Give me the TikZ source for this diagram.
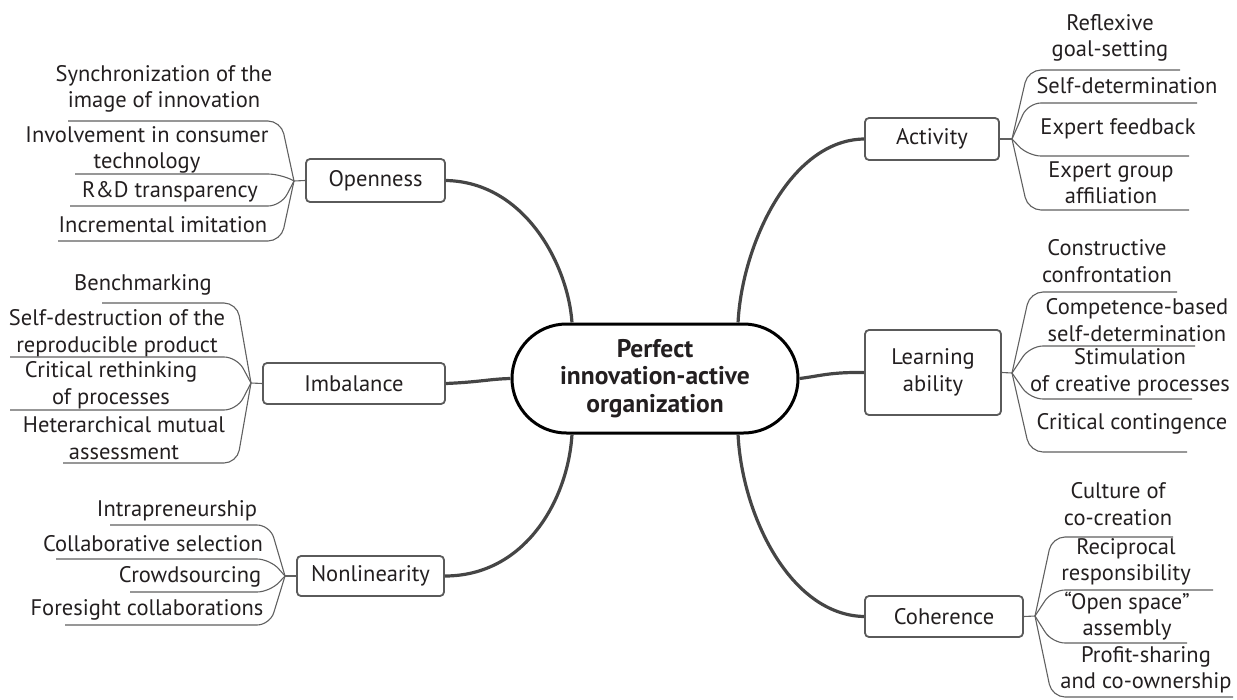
\documentclass[tikz,border=0pt]{standalone}
\usepackage{fontspec}
\setmainfont{PT Sans}
\usetikzlibrary{shapes.misc}
\definecolor{txt}{HTML}{231F20}
\definecolor{mainc}{HTML}{454545}
\definecolor{boxc}{HTML}{5A5A5A}
\definecolor{twigc}{HTML}{606060}
\newcommand{\lfont}{\fontsize{22.5}{26.5}\selectfont}
\newcommand{\hfont}{\fontsize{25.5}{27.5}\selectfont\bfseries}
\tikzset{
  leaf/.style={font=\lfont, text=txt, align=center, inner sep=0pt},
  branch/.style={draw=boxc, line width=1.8pt, rounded corners=4pt, fill=white,
    font=\lfont, text=txt, align=center, inner sep=0pt},
  hub/.style={rounded rectangle, draw=black, line width=3pt, fill=white,
    minimum width=286, minimum height=109, inner sep=0pt,
    font=\hfont, text=txt, align=center},
  mainline/.style={draw=mainc, line width=3.2pt},
  twig/.style={draw=twigc, line width=1.1pt, rounded corners=13pt},
  stub/.style={draw=twigc, line width=1.1pt}
}
\begin{document}
\begin{tikzpicture}[x=1pt, y=-1pt]
\useasboundingbox (0,0) rectangle (1237,699);

% central node
\node[hub] (hub) at (655,378.5) {Perfect\\innovation-active\\organization};

% branch nodes
\node[branch, minimum width=139, minimum height=43] (open) at (375.5,180.5) {Openness};
\node[branch, minimum width=182, minimum height=41] (imb) at (354,383.5) {Imbalance};
\node[branch, minimum width=147, minimum height=40] (nonlin) at (370.5,576) {Nonlinearity};
\node[branch, minimum width=134, minimum height=42] (act) at (932,139) {Activity};
\node[branch, minimum width=136, minimum height=85] (learn) at (933,372.5) {Learning\\ability};
\node[branch, minimum width=158, minimum height=41] (coh) at (944,616.5) {Coherence};

% thick connectors from the centre
\draw[mainline] (open.east) .. controls (525,182) and (568,265) .. (hub.146);
\draw[mainline] (imb.east) .. controls (480,382) and (490,379) .. (hub.west);
\draw[mainline] (nonlin.east) .. controls (525,576) and (568,500) .. (hub.-146);
\draw[mainline] (act.west) .. controls (790,140) and (742,245) .. (hub.34);
\draw[mainline] (learn.west) .. controls (830,372) and (820,376) .. (hub.east);
\draw[mainline] (coh.west) .. controls (790,615) and (742,515) .. (hub.-34);

% fork points
\coordinate (fo) at (294,181);
\coordinate (fi) at (251,383);
\coordinate (fn) at (285,576);
\coordinate (fa) at (1012,139);
\coordinate (fl) at (1012,373);
\coordinate (fc) at (1035,616);

\draw[stub] (open.west) -- (fo);
\draw[stub] (imb.west) -- (fi);
\draw[stub] (nonlin.west) -- (fn);
\draw[stub] (act.east) -- (fa);
\draw[stub] (learn.east) -- (fl);
\draw[stub] (coh.east) -- (fc);

% Openness leaves
\node[leaf] (o1) at (164,89) {Synchronization of the\\image of innovation};
\node[leaf] (o2) at (147,150) {Involvement in consumer\\technology};
\node[leaf] (o3) at (170,192) {R\&D transparency};
\node[leaf] (o4) at (163,225) {Incremental imitation};
\draw[twig] (fo) -- (281,121) -- (68,121);
\draw[twig] (fo) -- (281,174) -- (75,174);
\draw[twig] (fo) -- (281,206) -- (70,206);
\draw[twig] (fo) -- (281,241) -- (58,241);

% Imbalance leaves
\node[leaf] (i1) at (143,285) {Benchmarking};
\node[leaf] (i2) at (117,333) {Self-destruction of the\\reproducible product};
\node[leaf] (i3) at (111,385) {Critical rethinking\\of processes};
\node[leaf] (i4) at (124,438) {Heterarchical mutual\\assessment};
\draw[twig] (fi) -- (237,303) -- (102,303);
\draw[twig] (fi) -- (237,357) -- (10,357);
\draw[twig] (fi) -- (237,410) -- (10,410);
\draw[twig] (fi) -- (237,463) -- (63,463);

% Nonlinearity leaves
\node[leaf] (n1) at (177,511) {Intrapreneurship};
\node[leaf] (n2) at (153,544) {Collaborative selection};
\node[leaf] (n3) at (190,577) {Crowdsourcing};
\node[leaf] (n4) at (147,610) {Foresight collaborations};
\draw[twig] (fn) -- (270,525) -- (110,525);
\draw[twig] (fn) -- (270,559) -- (56,559);
\draw[twig] (fn) -- (270,592) -- (130,592);
\draw[twig] (fn) -- (270,625) -- (65,625);

% Activity leaves
\node[leaf] (a1) at (1110,38) {Reflexive\\goal-setting};
\node[leaf] (a2) at (1127,86) {Self-determination};
\node[leaf] (a3) at (1118,129) {Expert feedback};
\node[leaf] (a4) at (1111,183) {Expert group\\affiliation};
\draw[twig] (fa) -- (1028,70) -- (1180,70);
\draw[twig] (fa) -- (1028,103) -- (1197,103);
\draw[twig] (fa) -- (1028,156) -- (1189,156);
\draw[twig] (fa) -- (1028,210) -- (1189,210);

% Learning ability leaves
\node[leaf] (l1) at (1107,261) {Constructive\\confrontation};
\node[leaf] (l2) at (1137,320) {Competence-based\\self-determination};
\node[leaf] (l3) at (1130,372) {Stimulation\\of creative processes};
\node[leaf] (l4) at (1132,424) {Critical contingence};
\draw[twig] (fl) -- (1030,292) -- (1177,292);
\draw[twig] (fl) -- (1030,346) -- (1195,346);
\draw[twig] (fl) -- (1030,399) -- (1192,399);
\draw[twig] (fl) -- (1030,452) -- (1187,452);

% Coherence leaves
\node[leaf] (c1) at (1118,504) {Culture of\\co-creation};
\node[leaf] (c2) at (1126,562) {Reciprocal\\responsibility};
\node[leaf] (c3) at (1127,616) {“Open space”\\assembly};
\node[leaf] (c4) at (1146,670) {Profit-sharing\\and co-ownership};
\draw[twig] (fc) -- (1052,537) -- (1173,537);
\draw[twig] (fc) -- (1052,590) -- (1213,590);
\draw[twig] (fc) -- (1052,643) -- (1187,643);
\draw[twig] (fc) -- (1052,697) -- (1233,697);
\end{tikzpicture}
\end{document}
